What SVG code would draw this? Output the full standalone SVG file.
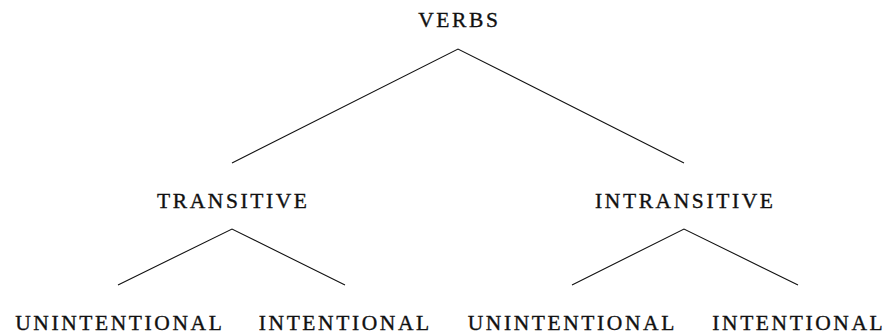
<svg xmlns="http://www.w3.org/2000/svg" width="888" height="333" viewBox="0 0 888 333">
  <style>
    .lbl { font-family: "Liberation Serif", "DejaVu Serif", serif; font-size: 21.5px; letter-spacing: 2.6px; fill: #111; stroke: #111; stroke-width: 0.35; text-anchor: middle; }
    .edge { stroke: #111; stroke-width: 1.1; fill: none; }
  </style>
  <rect width="888" height="333" fill="#fff"/>
  <g id="connectors">
    <polyline class="edge" points="232,163 458,49 684,163"/>
    <polyline class="edge" points="118,285 232,229 345,285"/>
    <polyline class="edge" points="572,285 684,229 798,285"/>
  </g>
  <g id="verbs"><text class="lbl" x="459.3" y="26.5">VERBS</text></g>
  <g id="transitive"><text class="lbl" x="233.3" y="207.5">TRANSITIVE</text></g>
  <g id="intransitive"><text class="lbl" x="685.3" y="207.5">INTRANSITIVE</text></g>
  <g id="transitive-unintentional"><text class="lbl" x="119.8" y="329.5">UNINTENTIONAL</text></g>
  <g id="transitive-intentional"><text class="lbl" x="345.3" y="329.5">INTENTIONAL</text></g>
  <g id="intransitive-unintentional"><text class="lbl" x="572.3" y="329.5">UNINTENTIONAL</text></g>
  <g id="intransitive-intentional"><text class="lbl" x="798.8" y="329.5">INTENTIONAL</text></g>
</svg>
